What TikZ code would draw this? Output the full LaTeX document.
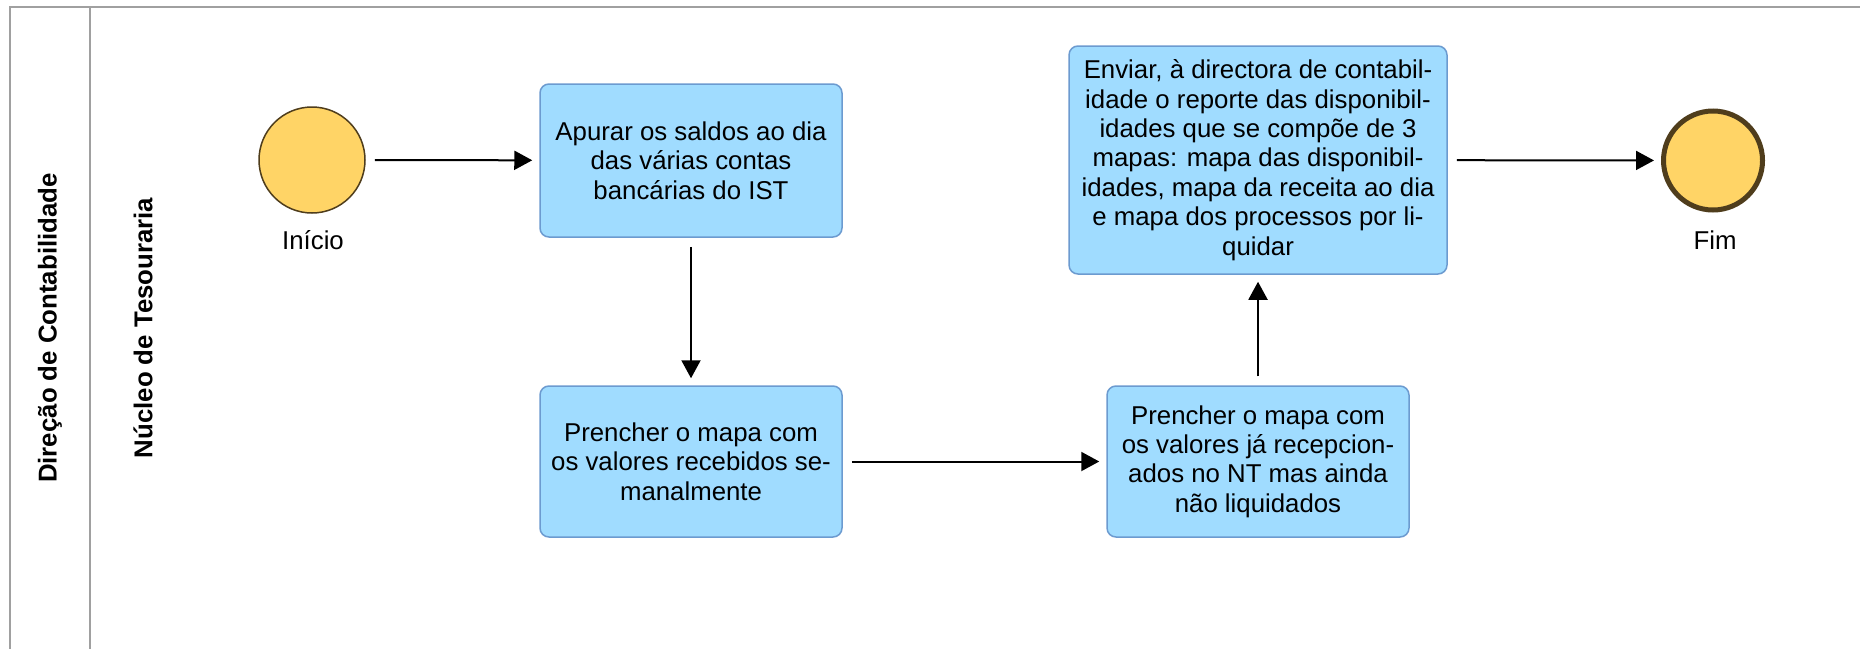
\documentclass[tikz,border=0pt]{standalone}
\usepackage{fontspec}
\setmainfont{Liberation Sans}
\usetikzlibrary{arrows.meta}
\definecolor{taskfill}{HTML}{A0DCFF}
\definecolor{taskline}{HTML}{6C9BD0}
\definecolor{evfill}{HTML}{FFD466}
\definecolor{evline}{HTML}{4F3D1C}
\definecolor{poolline}{HTML}{A0A0A0}
\tikzset{
  task/.style={draw=taskline, line width=1.5pt, fill=taskfill, rounded corners=9pt,
    minimum width=302pt, align=center, inner sep=0pt,
    font=\fontsize{25.8}{29.4}\selectfont},
  startev/.style={circle, draw=evline, line width=1.5pt, fill=evfill, minimum size=106pt, inner sep=0pt},
  endev/.style={circle, draw=evline, line width=5pt, fill=evfill, minimum size=99pt, inner sep=0pt},
  evlabel/.style={font=\fontsize{25.8}{29.4}\selectfont, inner sep=0pt},
  lanetitle/.style={font=\bfseries\fontsize{25.8}{29.4}\selectfont, rotate=90, inner sep=0pt},
  flow/.style={line width=2pt, -{Triangle[length=18pt,width=19pt]}, shorten <=9pt, shorten >=7pt},
  pool/.style={draw=poolline, line width=2pt}
}
\begin{document}
\begin{tikzpicture}[x=1pt,y=-1pt]
\useasboundingbox (0,0) rectangle (1860,648);
\fill[white] (0,0) rectangle (1860,648);
\draw[pool] (10,660) -- (10,7) -- (1870,7);
\draw[pool] (90,7) -- (90,660);
\node[lanetitle] (pooltitle) at (50,328) {Direção de Contabilidade};
\node[lanetitle] (lanetitle1) at (143,328) {Núcleo de Tesouraria};

\node[startev] (start) at (312,160) {};
\node[evlabel] (startlbl) at (313,240) {Início};
\node[task, minimum height=153pt] (t1) at (691,160.5) {Apurar os saldos ao dia\\das várias contas\\bancárias do IST};
\node[task, minimum height=151pt] (t2) at (691,461.5) {Prencher o mapa com\\os valores recebidos se-\\manalmente};
\node[task, minimum height=151pt] (t3) at (1258,461.5) {Prencher o mapa com\\os valores já recepcion-\\ados no NT mas ainda\\não liquidados};
\node[task, minimum width=378pt, minimum height=228pt] (t4) at (1258,160) {Enviar, à directora de contabil-\\idade o reporte das disponibil-\\idades que se compõe de 3\\mapas: mapa das disponibil-\\idades, mapa da receita ao dia\\e mapa dos processos por li-\\quidar};
\node[endev] (end) at (1713,160.5) {};
\node[evlabel] (endlbl) at (1715,240) {Fim};

\draw[flow] (start) -- (t1);
\draw[flow] (t1) -- (t2);
\draw[flow] (t2) -- (t3);
\draw[flow] (t3) -- (t4);
\draw[flow] (t4) -- (end);
\end{tikzpicture}
\end{document}
